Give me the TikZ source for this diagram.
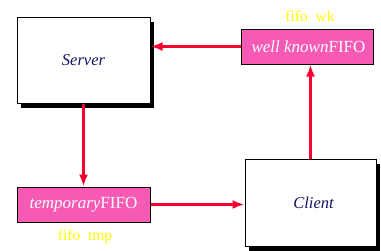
\documentclass[tikz,border=0pt]{standalone}
\usepackage{fontspec}
\setmainfont{Liberation Serif}
\usetikzlibrary{arrows.meta,shadows}
\definecolor{fifopink}{RGB}{247,90,181}
\definecolor{arrred}{RGB}{250,0,50}
\definecolor{navytext}{RGB}{20,20,100}
\definecolor{lblyellow}{RGB}{255,255,0}
\tikzset{
  bigbox/.style={draw=black, line width=1pt, fill=white, inner sep=0pt,
    font=\fontsize{16.5}{19}\selectfont\itshape, text=navytext,
    general shadow={fill=black, shadow xshift=4pt, shadow yshift=-4.5pt}},
  fifobox/.style={draw=black, line width=1pt, fill=fifopink, inner sep=0pt,
    font=\fontsize{17}{20}\selectfont, text=white,
    general shadow={fill=black, shadow xshift=1pt, shadow yshift=-1pt}},
  fifolbl/.style={font=\fontsize{15.5}{18}\selectfont, text=lblyellow, inner sep=0pt},
  flow/.style={draw=arrred, line width=2.5pt, -{Latex[length=12pt,width=9pt]}}
}
\begin{document}
\begin{tikzpicture}[x=1pt,y=-1pt]
\useasboundingbox (0,0) rectangle (381,250);
\node[bigbox, minimum width=133pt, minimum height=86pt] (server) at (83.5,60) {Server};
\node[bigbox, minimum width=131pt, minimum height=87pt] (client) at (310.5,202.5) {\hspace{6pt}Client};
\node[fifobox, minimum width=132pt, minimum height=35pt] (wk) at (307,46.5) {\hspace{3pt}\textit{well known}FIFO};
\node[fifobox, minimum width=133pt, minimum height=35pt] (tmp) at (83.5,204.5) {\textit{temporary}FIFO\hspace{3pt}};
\node[fifolbl] (wklbl) at (310,16) {fifo\hspace{0.5em}wk};
\node[fifolbl] (tmplbl) at (85,237) {fifo\hspace{0.5em}tmp};
\draw[flow] (wk.west) -- (wk.west -| server.east);
\draw[flow] (server.south) -- (tmp.north);
\draw[flow] (tmp.east) -- (tmp.east -| client.west);
\draw[flow] (client.north) -- (client.north |- wk.south);
\end{tikzpicture}
\end{document}
